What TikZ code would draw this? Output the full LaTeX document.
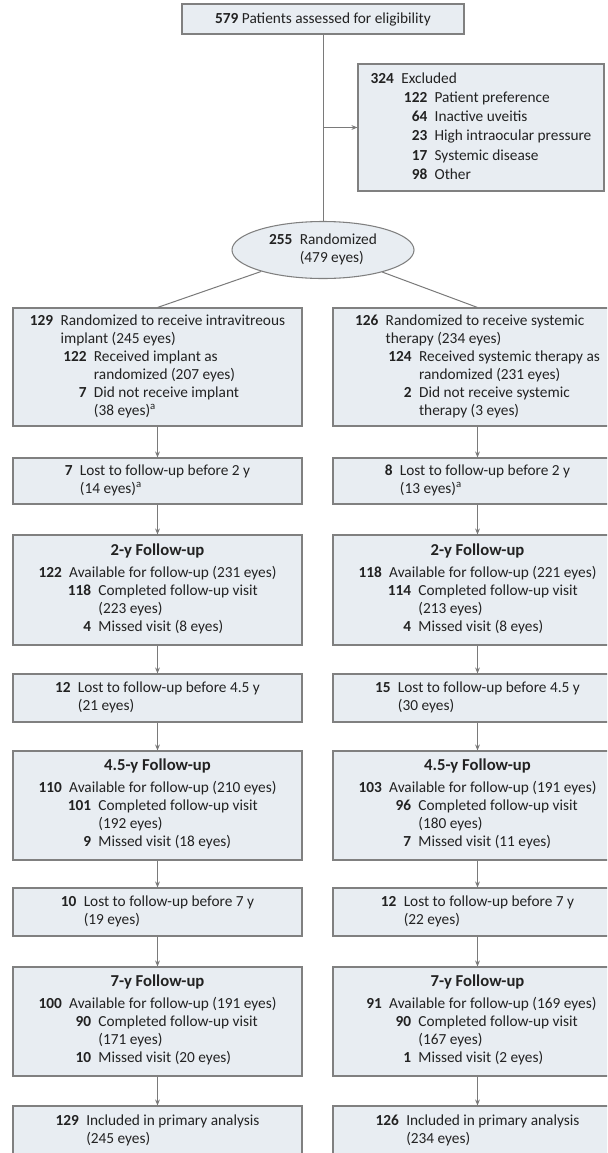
\documentclass[tikz,border=0pt]{standalone}
\usepackage{fontspec}
\setmainfont{Carlito}
\usetikzlibrary{arrows.meta,shapes.geometric}
\definecolor{boxfill}{HTML}{E8EDF2}
\definecolor{boxline}{HTML}{808080}
\definecolor{conn}{HTML}{7A7A7A}
\definecolor{txt}{HTML}{222222}
\newlength\ia \setlength\ia{25pt}
\newlength\ib \setlength\ib{22pt}
\newcommand\Ent[4]{\hspace*{#1}\hphantom{\bfseries #2}\llap{\bfseries #3}\hspace{5.5pt}#4}
\newcommand\LostBox[3]{\begin{tabular}{@{}l@{}}\Ent{0pt}{#1}{#1}{#2}\\\Ent{0pt}{#1}{}{#3}\end{tabular}}
\newcommand\FUBox[8]{{\fontsize{12.5}{14}\selectfont\textbf{#1}}\\[3pt]\begin{tabular}[t]{@{}l@{}}\Ent{0pt}{000}{#2}{#3}\\\Ent{\ib}{000}{#4}{#5}\\\Ent{\ib}{000}{}{#6}\\\Ent{\ib}{000}{#7}{#8}\end{tabular}}
\begin{document}
\begin{tikzpicture}[x=0.75pt,y=-0.75pt,
  font=\fontsize{11.5}{13.5}\selectfont\color{txt},
  bx/.style={draw=boxline, fill=boxfill, line width=0.8pt, inner sep=0pt, align=center},
  sz/.style 2 args={minimum width=#1*0.75pt, minimum height=#2*0.75pt},
  conn/.style={draw=conn, line width=0.75pt},
  arr/.style={conn, -{Stealth[length=4.5pt,width=3.6pt]}}]
\useasboundingbox (0,0) rectangle (607,1153);
\clip (0,0) rectangle (607,1153);
\fill[white] (0,0) rectangle (607,1153);

\node[bx, sz={282}{30}] (top) at (323,19) {\textbf{579} Patients assessed for eligibility};
\node[bx, sz={246}{127}] (excl) at (481,127.5) {\renewcommand\arraystretch{1.07}\begin{tabular}{@{}l@{}}
\Ent{0pt}{000}{324}{Excluded}\\
\Ent{\ia}{000}{122}{Patient preference}\\
\Ent{\ia}{000}{64}{Inactive uveitis}\\
\Ent{\ia}{000}{23}{High intraocular pressure}\\
\Ent{\ia}{000}{17}{Systemic disease}\\
\Ent{\ia}{000}{98}{Other}\end{tabular}};
\node[bx, ellipse, sz={182}{57}] (rand) at (323,250) {\begin{tabular}{@{}l@{}}\Ent{0pt}{255}{255}{Randomized}\\\Ent{0pt}{255}{}{(479 eyes)}\end{tabular}};

% left column
\node[bx, sz={289}{118}] (L1) at (157.5,367) {\begin{tabular}{@{}l@{}}
\Ent{0pt}{000}{129}{Randomized to receive intravitreous}\\
\Ent{0pt}{000}{}{implant (245 eyes)}\\
\Ent{\ia}{000}{122}{Received implant as}\\
\Ent{\ia}{000}{}{randomized (207 eyes)}\\
\Ent{\ia}{000}{7}{Did not receive implant}\\
\Ent{\ia}{000}{}{(38 eyes)\textsuperscript{a}}\end{tabular}};
\node[bx, sz={289}{46}] (L2) at (157.5,481) {\LostBox{7}{Lost to follow-up before 2 y}{(14 eyes)\textsuperscript{a}}};
\node[bx, sz={289}{110}] (L3) at (157.5,590) {\FUBox{2-y Follow-up}{122}{Available for follow-up (231 eyes)}{118}{Completed follow-up visit}{(223 eyes)}{4}{Missed visit (8 eyes)}};
\node[bx, sz={289}{48}] (L4) at (157.5,698) {\LostBox{12}{Lost to follow-up before 4.5 y}{(21 eyes)}};
\node[bx, sz={289}{109}] (L5) at (157.5,805.5) {\FUBox{4.5-y Follow-up}{110}{Available for follow-up (210 eyes)}{101}{Completed follow-up visit}{(192 eyes)}{9}{Missed visit (18 eyes)}};
\node[bx, sz={289}{48}] (L6) at (157.5,912) {\LostBox{10}{Lost to follow-up before 7 y}{(19 eyes)}};
\node[bx, sz={289}{109}] (L7) at (157.5,1021.5) {\FUBox{7-y Follow-up}{100}{Available for follow-up (191 eyes)}{90}{Completed follow-up visit}{(171 eyes)}{10}{Missed visit (20 eyes)}};
\node[bx, sz={289}{50}] (L8) at (157.5,1131) {\LostBox{129}{Included in primary analysis}{(245 eyes)}};

% right column
\node[bx, sz={289}{118}] (R1) at (477.5,367) {\begin{tabular}{@{}l@{}}
\Ent{0pt}{000}{126}{Randomized to receive systemic}\\
\Ent{0pt}{000}{}{therapy (234 eyes)}\\
\Ent{\ia}{000}{124}{Received systemic therapy as}\\
\Ent{\ia}{000}{}{randomized (231 eyes)}\\
\Ent{\ia}{000}{2}{Did not receive systemic}\\
\Ent{\ia}{000}{}{therapy (3 eyes)}\end{tabular}};
\node[bx, sz={289}{46}] (R2) at (477.5,481) {\LostBox{8}{Lost to follow-up before 2 y}{(13 eyes)\textsuperscript{a}}};
\node[bx, sz={289}{110}] (R3) at (477.5,590) {\FUBox{2-y Follow-up}{118}{Available for follow-up (221 eyes)}{114}{Completed follow-up visit}{(213 eyes)}{4}{Missed visit (8 eyes)}};
\node[bx, sz={289}{48}] (R4) at (477.5,698) {\LostBox{15}{Lost to follow-up before 4.5 y}{(30 eyes)}};
\node[bx, sz={289}{109}] (R5) at (477.5,805.5) {\FUBox{4.5-y Follow-up}{103}{Available for follow-up (191 eyes)}{96}{Completed follow-up visit}{(180 eyes)}{7}{Missed visit (11 eyes)}};
\node[bx, sz={289}{48}] (R6) at (477.5,912) {\LostBox{12}{Lost to follow-up before 7 y}{(22 eyes)}};
\node[bx, sz={289}{109}] (R7) at (477.5,1021.5) {\FUBox{7-y Follow-up}{91}{Available for follow-up (169 eyes)}{90}{Completed follow-up visit}{(167 eyes)}{1}{Missed visit (2 eyes)}};
\node[bx, sz={289}{50}] (R8) at (477.5,1131) {\LostBox{126}{Included in primary analysis}{(234 eyes)}};

% connectors
\draw[conn] (top) -- (rand);
\coordinate (tee) at (top.south |- excl.west);
\draw[arr] (tee) -- (excl.west);
\draw[conn] (rand) -- (L1.north);
\draw[conn] (rand) -- (R1.north);
\foreach \c in {L,R}{
  \draw[arr] (\c1) -- (\c2);
  \draw[arr] (\c2) -- (\c3);
  \draw[arr] (\c3) -- (\c4);
  \draw[arr] (\c4) -- (\c5);
  \draw[arr] (\c5) -- (\c6);
  \draw[arr] (\c6) -- (\c7);
  \draw[arr] (\c7) -- (\c8);
}
\end{tikzpicture}
\end{document}
